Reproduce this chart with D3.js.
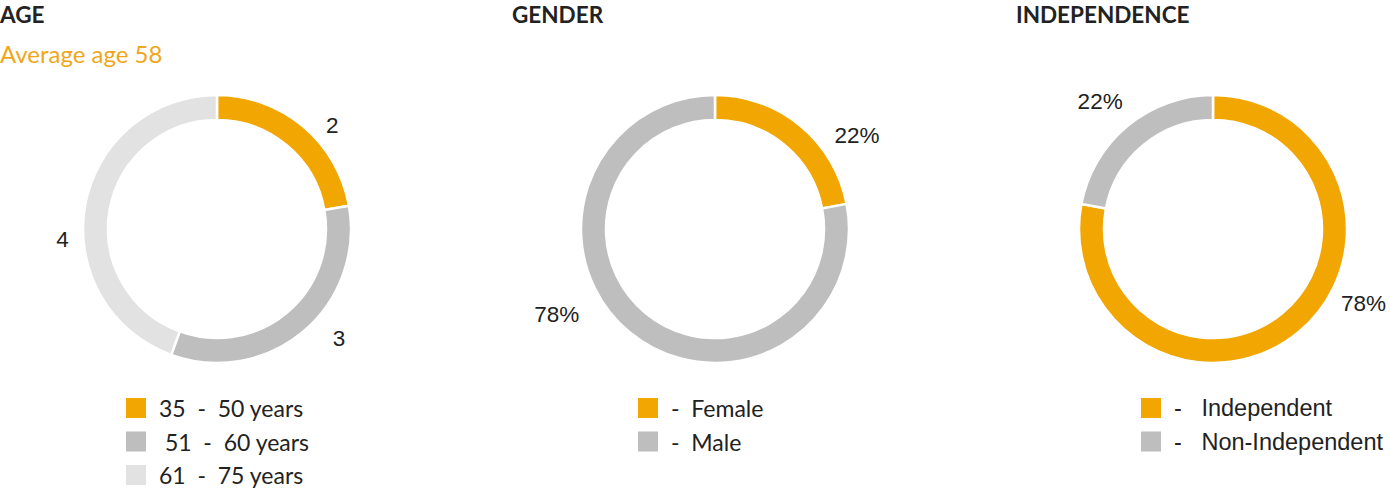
<!DOCTYPE html>
<html><head><meta charset="utf-8">
<script src="https://cdn.jsdelivr.net/npm/d3@7"></script>
<style>
html,body{margin:0;padding:0;background:#fff;}
svg text{white-space:pre;}
</style></head>
<body>
<svg id="c" width="1390" height="496"></svg>
<script>
// ---- data ----
const ageLabels = ["35  -  50 years", " 51  -  60 years", "61  -  75 years"];
const ageValues = [2, 3, 4];
const genderLabels = ["-  Female", "-  Male"];
const genderValues = [22, 78];
const indepLabels = ["-   Independent", "-   Non-Independent"];
const indepValues = [78, 22];
const titles = ["AGE", "GENDER", "INDEPENDENCE"];
const subtitle = "Average age 58";

// ---- layout / style ----
const orange = "#F2A602", gray = "#BDBEBD", light = "#E1E2E1";
const panels = [
  {title: titles[0], values: ageValues, labels: ageLabels, colors: [orange, gray, light],
   fmt: v => String(v), cx: 217, tx: 0, legX: 126, legFont: "Lato", legSize: 23, shift: [8, -8, -14], rad: [155, 164, 155]},
  {title: titles[1], values: genderValues, labels: genderLabels, colors: [orange, gray],
   fmt: v => v + "%", cx: 715, tx: 512, legX: 638, legFont: "Lato", legSize: 23, shift: [17, 22], rad: [170, 180]},
  {title: titles[2], values: indepValues, labels: indepLabels, colors: [orange, gray],
   fmt: v => v + "%", cx: 1213, tx: 1016, legX: 1141, legFont: "Liberation Sans, Arial", legSize: 23.5, shift: [-24, -2], rad: [168, 170]}
];
const cy = 229, R = 134, r = 109;

const svg = d3.select("#c");
const pie = d3.pie().sort(null).value(d => d);
const arc = d3.arc().innerRadius(r).outerRadius(R);

panels.forEach((p, pi) => {
  svg.append("text").attr("x", p.tx).attr("y", 23)
    .attr("font-family", "Lato").attr("font-weight", 700).attr("font-size", 22.5)
    .attr("fill", "#222").text(p.title);
  if (pi === 0) {
    svg.append("text").attr("x", 0).attr("y", 63)
      .attr("font-family", "Lato").attr("font-size", 24).attr("fill", "#EFA719").text(subtitle);
  }
  const g = svg.append("g").attr("transform", `translate(${p.cx},${cy})`);
  const arcs = pie(p.values);
  g.selectAll("path").data(arcs).join("path")
    .attr("d", arc).attr("fill", (d, i) => p.colors[i])
    .attr("stroke", "#fff").attr("stroke-width", 2.5);
  g.selectAll("text.lbl").data(arcs).join("text").attr("class", "lbl")
    .attr("transform", (d, i) => {
      const a = (d.startAngle + d.endAngle) / 2 + p.shift[i] * Math.PI / 180;
      const la = d3.arc().innerRadius(p.rad[i]).outerRadius(p.rad[i]);
      const c = la.centroid({startAngle: a, endAngle: a});
      return `translate(${c[0]},${c[1]})`;
    })
    .attr("text-anchor", "middle").attr("dominant-baseline", "central")
    .attr("font-family", "Liberation Sans, Arial").attr("font-size", 22.5).attr("fill", "#222")
    .text(d => p.fmt(d.data));
  const ly = d3.scaleLinear().domain([0, 1]).range([408, 441.5]);
  const leg = svg.append("g");
  p.labels.forEach((lab, i) => {
    leg.append("rect").attr("x", p.legX).attr("y", ly(i) - 10).attr("width", 20).attr("height", 20)
      .attr("fill", p.colors[i]);
    leg.append("text").attr("x", p.legX + 33).attr("y", ly(i)).attr("dominant-baseline", "central")
      .attr("font-family", p.legFont).attr("font-size", p.legSize).attr("fill", "#222").text(lab);
  });
});
</script>
</body></html>
